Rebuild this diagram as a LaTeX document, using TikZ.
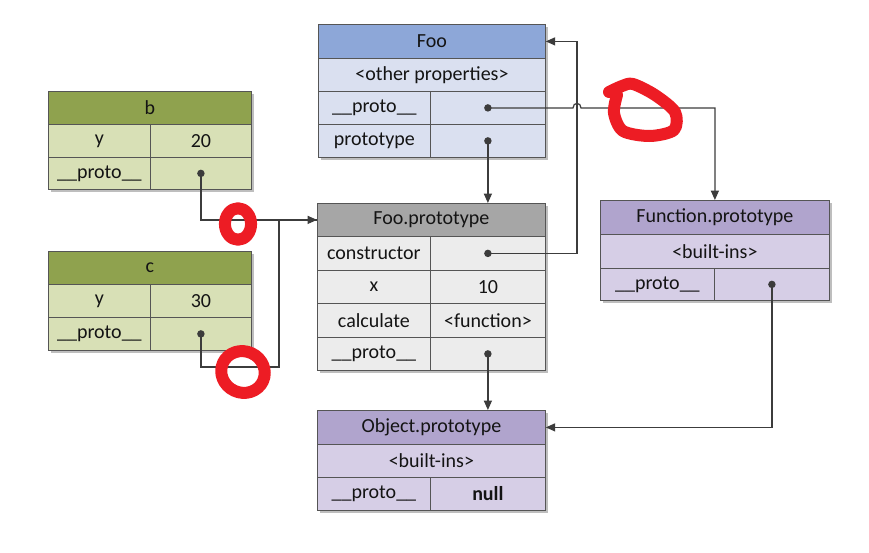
\documentclass[tikz,border=0pt]{standalone}
\usepackage{fontspec}
\setmainfont{Carlito}
\usetikzlibrary{arrows.meta,calc}
\definecolor{blueh}{RGB}{141,167,216}
\definecolor{bluer}{RGB}{218,224,240}
\definecolor{greenh}{RGB}{143,162,78}
\definecolor{greenr}{RGB}{216,224,182}
\definecolor{grayh}{RGB}{166,166,166}
\definecolor{grayr}{RGB}{236,236,236}
\definecolor{purh}{RGB}{176,164,205}
\definecolor{purr}{RGB}{214,206,230}
\definecolor{linec}{RGB}{85,85,85}
\definecolor{connc}{RGB}{60,60,60}
\definecolor{txt}{RGB}{20,20,20}
\definecolor{redc}{RGB}{237,28,36}
\definecolor{shadowc}{RGB}{190,190,190}
\newcommand\mkcell[7]{\node[cellbox,fill=#6,minimum width={(#4-#2)*0.75pt},minimum height={(#5-#3)*0.75pt},anchor=north west] (#1) at (#2,#3) {#7};}
\newcommand\shadowbox[4]{\fill[shadowc] (#1+3,#2+3) rectangle (#3+3,#4+3);}
\begin{document}
\begin{tikzpicture}[x=0.75pt,y=-0.75pt,
  cellbox/.style={draw=linec, line width=0.6pt, inner sep=0pt, text=txt, font=\fontsize{15}{18}\selectfont},
  conn/.style={draw=connc, line width=0.9pt},
  arr/.style={conn, -{Triangle[length=7pt,width=6pt]}},
  redmark/.style={draw=redc, line width=9pt, line cap=round, line join=round}]
\fill[white] (0,0) rectangle (869,553);
\useasboundingbox (0,0) rectangle (869,553);
% shadows
\shadowbox{318}{24}{545}{157}
\shadowbox{48}{91}{251}{189}
\shadowbox{48}{251}{251}{350}
\shadowbox{317}{203}{545}{370}
\shadowbox{317}{410}{545}{510}
\shadowbox{600}{200}{829}{300}
% Foo
\mkcell{fooh}{318}{24}{545}{58}{blueh}{Foo}
\mkcell{fooo}{318}{58}{545}{91}{bluer}{<other properties>}
\mkcell{foopk}{318}{91}{430}{124}{bluer}{\_\_proto\_\_}
\mkcell{foopv}{430}{91}{545}{124}{bluer}{}
\mkcell{fooptk}{318}{124}{430}{157}{bluer}{prototype}
\mkcell{fooptv}{430}{124}{545}{157}{bluer}{}
% b
\mkcell{bh}{48}{91}{251}{124}{greenh}{b}
\mkcell{byk}{48}{124}{150}{157}{greenr}{y}
\mkcell{byv}{150}{124}{251}{157}{greenr}{20}
\mkcell{bpk}{48}{157}{150}{189}{greenr}{\_\_proto\_\_}
\mkcell{bpv}{150}{157}{251}{189}{greenr}{}
% c
\mkcell{ch}{48}{251}{251}{284}{greenh}{c}
\mkcell{cyk}{48}{284}{150}{317}{greenr}{y}
\mkcell{cyv}{150}{284}{251}{317}{greenr}{30}
\mkcell{cpk}{48}{317}{150}{350}{greenr}{\_\_proto\_\_}
\mkcell{cpv}{150}{317}{251}{350}{greenr}{}
% Foo.prototype
\mkcell{fph}{317}{203}{545}{236}{grayh}{Foo.prototype}
\mkcell{fpck}{317}{236}{430}{270}{grayr}{constructor}
\mkcell{fpcv}{430}{236}{545}{270}{grayr}{}
\mkcell{fpxk}{317}{270}{430}{303}{grayr}{x}
\mkcell{fpxv}{430}{270}{545}{303}{grayr}{10}
\mkcell{fpfk}{317}{303}{430}{337}{grayr}{calculate}
\mkcell{fpfv}{430}{303}{545}{337}{grayr}{<function>}
\mkcell{fppk}{317}{337}{430}{370}{grayr}{\_\_proto\_\_}
\mkcell{fppv}{430}{337}{545}{370}{grayr}{}
% Object.prototype
\mkcell{oph}{317}{410}{545}{444}{purh}{Object.prototype}
\mkcell{opb}{317}{444}{545}{477}{purr}{<built-ins>}
\mkcell{oppk}{317}{477}{430}{510}{purr}{\_\_proto\_\_}
\mkcell{oppv}{430}{477}{545}{510}{purr}{\textbf{null}}
% Function.prototype
\mkcell{fnh}{600}{200}{829}{234}{purh}{Function.prototype}
\mkcell{fnb}{600}{234}{829}{268}{purr}{<built-ins>}
\mkcell{fnpk}{600}{268}{714}{300}{purr}{\_\_proto\_\_}
\mkcell{fnpv}{714}{268}{829}{300}{purr}{}
% helper coordinates
\coordinate (vx) at (577,0);
\coordinate (cturn) at (279,367);
\coordinate (hop) at (foopv.center -| vx);
% connectors
\draw[arr] (bpv.center) |- (fph.west);
\draw[conn] (cpv.center) |- (cturn) |- (fph.west);
\draw[arr] (fooptv.center) -- (fooptv.center |- fph.north);
\draw[arr] (fpcv.center) -| (fooh.east -| vx) -- (fooh.east);
\draw[arr] (foopv.center) -- ($(hop)+(-4,0)$) .. controls ($(hop)+(-4,-6)$) and ($(hop)+(4,-6)$) .. ($(hop)+(4,0)$) -| (fnh.north);
\draw[arr] (fppv.center) -- (fppv.center |- oph.north);
\draw[arr] (fnpv.center) |- (oph.east);
% dots
\foreach \n in {bpv,cpv,foopv,fooptv,fpcv,fppv,fnpv}
  \fill[connc] (\n.center) circle[radius=2.8pt];
% red annotations
\draw[redmark] (238,224) ellipse[x radius=9.8pt, y radius=11.8pt];
\draw[redmark] (243,372) ellipse[x radius=16.5pt, y radius=15.5pt, rotate=-25];
\draw[redmark] plot[smooth] coordinates {(609,92) (622,86) (633,84) (655,95) (675,112) (674,130) (650,136) (623,131) (614,113) (617,95)};
\end{tikzpicture}
\end{document}
